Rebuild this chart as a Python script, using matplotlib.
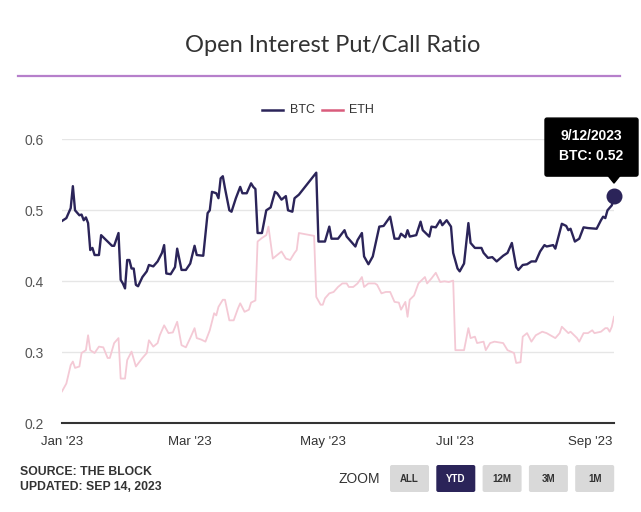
import numpy as np
import pandas as pd
import matplotlib
matplotlib.use('Agg')
import matplotlib.pyplot as plt
import matplotlib.dates as mdates
from matplotlib.patches import FancyBboxPatch, Polygon

# Data (days since 2023-01-01, put/call ratio)
start_date = pd.Timestamp('2023-01-01')

btc_day = [0, 2, 3, 4, 5, 6, 8, 9, 10, 11, 12, 13, 14, 15, 17, 18, 21, 23, 24, 26,
           27, 28, 29, 30, 31, 32, 33, 34, 35, 37, 39, 40, 42, 44, 46, 47, 48, 50, 52, 53,
           55, 57, 59, 61, 62, 65, 67, 68, 69, 71, 72, 73, 74, 75, 77, 78, 80, 82, 83, 85,
           87, 88, 89, 90, 92, 94, 96, 98, 99, 101, 103, 104, 106, 107, 109, 117, 118, 121, 123, 124,
           127, 130, 131, 135, 136, 138, 139, 141, 143, 146, 148, 151, 153, 155, 156, 158, 159, 160, 163, 165,
           166, 169, 170, 172, 174, 175, 177, 179, 180, 182, 183, 185, 187, 188, 190, 193, 194, 196, 198, 200,
           203, 205, 207, 209, 210, 212, 214, 216, 218, 220, 222, 223, 226, 227, 230, 232, 233, 234, 236, 238,
           240, 242, 246, 248, 249, 250, 251, 253, 254]
btc_val = [0.485, 0.489, 0.496, 0.503, 0.534, 0.500, 0.493, 0.494, 0.486, 0.490, 0.482, 0.444, 0.447, 0.437, 0.437, 0.465, 0.456, 0.450, 0.450, 0.468,
           0.402, 0.397, 0.390, 0.430, 0.430, 0.418, 0.418, 0.395, 0.393, 0.406, 0.414, 0.423, 0.421, 0.428, 0.440, 0.451, 0.411, 0.410, 0.420, 0.446,
           0.416, 0.416, 0.425, 0.450, 0.437, 0.436, 0.496, 0.500, 0.526, 0.524, 0.517, 0.545, 0.548, 0.531, 0.500, 0.498, 0.517, 0.533, 0.524, 0.524,
           0.538, 0.533, 0.530, 0.468, 0.468, 0.500, 0.504, 0.526, 0.524, 0.515, 0.520, 0.500, 0.498, 0.517, 0.522, 0.553, 0.456, 0.456, 0.477, 0.460,
           0.460, 0.472, 0.463, 0.449, 0.458, 0.468, 0.435, 0.424, 0.435, 0.477, 0.478, 0.491, 0.460, 0.460, 0.467, 0.462, 0.472, 0.463, 0.465, 0.484,
           0.472, 0.463, 0.477, 0.476, 0.486, 0.479, 0.486, 0.477, 0.440, 0.418, 0.414, 0.425, 0.482, 0.454, 0.447, 0.447, 0.440, 0.433, 0.434, 0.428,
           0.436, 0.440, 0.454, 0.420, 0.416, 0.423, 0.424, 0.428, 0.428, 0.442, 0.451, 0.449, 0.451, 0.446, 0.481, 0.478, 0.472, 0.474, 0.456, 0.460,
           0.476, 0.475, 0.474, 0.486, 0.491, 0.489, 0.500, 0.507, 0.520]

eth_day = [0, 2, 4, 5, 6, 8, 9, 11, 12, 13, 15, 17, 19, 21, 22, 24, 26, 27, 29, 30,
           32, 34, 35, 37, 39, 40, 42, 44, 45, 47, 49, 51, 53, 55, 57, 59, 61, 62, 64, 66,
           68, 70, 71, 72, 74, 75, 77, 79, 81, 82, 84, 86, 87, 89, 90, 92, 94, 95, 97, 99,
           101, 103, 105, 107, 108, 109, 116, 117, 119, 120, 121, 123, 125, 127, 129, 131, 132, 134, 136, 138,
           139, 141, 144, 145, 147, 149, 151, 153, 155, 156, 158, 159, 160, 162, 164, 167, 168, 170, 172, 174,
           176, 178, 180, 181, 183, 185, 187, 188, 190, 191, 194, 195, 197, 199, 201, 203, 205, 208, 209, 211,
           212, 214, 216, 218, 221, 223, 227, 229, 230, 233, 234, 237, 238, 240, 242, 244, 245, 248, 250, 251,
           252, 253, 254]
eth_val = [0.245, 0.256, 0.282, 0.287, 0.278, 0.280, 0.299, 0.303, 0.324, 0.303, 0.299, 0.308, 0.307, 0.292, 0.292, 0.313, 0.320, 0.263, 0.263, 0.289,
           0.301, 0.280, 0.284, 0.292, 0.299, 0.317, 0.308, 0.313, 0.324, 0.338, 0.327, 0.328, 0.343, 0.310, 0.307, 0.320, 0.334, 0.320, 0.318, 0.315,
           0.331, 0.355, 0.352, 0.364, 0.374, 0.374, 0.345, 0.345, 0.362, 0.369, 0.357, 0.360, 0.370, 0.373, 0.456, 0.461, 0.465, 0.477, 0.432, 0.437,
           0.442, 0.432, 0.430, 0.440, 0.444, 0.468, 0.464, 0.378, 0.367, 0.367, 0.376, 0.383, 0.385, 0.392, 0.397, 0.397, 0.392, 0.392, 0.397, 0.406,
           0.392, 0.397, 0.397, 0.395, 0.383, 0.385, 0.385, 0.371, 0.370, 0.360, 0.371, 0.350, 0.374, 0.380, 0.397, 0.406, 0.397, 0.404, 0.412, 0.399,
           0.400, 0.399, 0.401, 0.303, 0.303, 0.303, 0.334, 0.320, 0.322, 0.313, 0.315, 0.303, 0.313, 0.315, 0.314, 0.313, 0.303, 0.299, 0.285, 0.286,
           0.322, 0.327, 0.315, 0.324, 0.329, 0.327, 0.320, 0.327, 0.336, 0.327, 0.329, 0.320, 0.315, 0.327, 0.327, 0.331, 0.327, 0.329, 0.334, 0.334,
           0.329, 0.336, 0.350]

y_ticks = [0.2, 0.3, 0.4, 0.5, 0.6]
zoom_buttons = ['ALL', 'YTD', '12M', '3M', '1M']
active_button = 'YTD'

# Colours
btc_color = '#2b2459'
eth_color = '#f4c9d5'
eth_legend_color = '#d95c7c'
text_color = '#333333'

W, H = 641, 512
fig = plt.figure(figsize=(W / 100, H / 100), dpi=100)
fig.patch.set_facecolor('white')

ax_left, ax_right = 62, 614
ax_top, ax_bottom = 139.3, 423.3
ax = fig.add_axes([ax_left / W, 1 - ax_bottom / H, (ax_right - ax_left) / W, (ax_bottom - ax_top) / H])

btc_dates = start_date + pd.to_timedelta(btc_day, unit='D')
eth_dates = start_date + pd.to_timedelta(eth_day, unit='D')

ax.plot(eth_dates, eth_val, color=eth_color, lw=1.3, zorder=2, solid_joinstyle='round')
ax.plot(btc_dates, btc_val, color=btc_color, lw=1.7, zorder=3, solid_joinstyle='round')

# hovered point
ax.plot(btc_dates[-1], btc_val[-1], 'o', ms=10.5, color=btc_color, zorder=5, clip_on=False)

ax.set_xlim(btc_dates[0], btc_dates[-1])
ax.set_ylim(0.2, 0.6)
ax.set_yticks(y_ticks)
ax.set_yticklabels([f'{v:.1f}' for v in y_ticks])
ax.xaxis.set_major_locator(mdates.MonthLocator(bymonth=[1, 3, 5, 7, 9]))
ax.xaxis.set_major_formatter(mdates.DateFormatter("%b '%y"))

ax.grid(axis='y', color='#e6e6e6', lw=1.0)
ax.set_axisbelow(True)
for s in ['top', 'right', 'left']:
    ax.spines[s].set_visible(False)
ax.spines['bottom'].set_color('#333333')
ax.spines['bottom'].set_linewidth(1.5)
ax.tick_params(axis='y', length=0, pad=13, labelsize=10, labelcolor='#555555')
ax.tick_params(axis='x', length=0, pad=9, labelsize=9.5, labelcolor=text_color)
for lab in ax.get_yticklabels() + ax.get_xticklabels():
    lab.set_fontfamily('Liberation Sans')

# overlay in pixel coords for page decorations
ov = fig.add_axes([0, 0, 1, 1])
ov.set_xlim(0, W)
ov.set_ylim(H, 0)
ov.axis('off')

ov.text(333, 45, 'Open Interest Put/Call Ratio', ha='center', va='center',
        fontsize=17, color=text_color, family='Lato')
ov.plot([18, 620], [76, 76], color='#b67fcb', lw=1.6)

# legend
ov.plot([262, 283], [110, 110], color=btc_color, lw=1.8)
ov.text(290, 110, 'BTC', ha='left', va='center', fontsize=9, color=text_color, family='Liberation Sans')
ov.plot([322, 343], [110, 110], color=eth_legend_color, lw=1.8)
ov.text(349, 110, 'ETH', ha='left', va='center', fontsize=9, color=text_color, family='Liberation Sans')

# tooltip anchored to last BTC point
px, py = ax.transData.transform((mdates.date2num(btc_dates[-1]), btc_val[-1]))
py = H - py
box_w, box_h = 93, 58
bx0, by0 = px - 69, py - 78
ov.add_patch(FancyBboxPatch((bx0, by0), box_w, box_h, boxstyle='round,pad=0,rounding_size=2',
                            fc='black', ec='black', zorder=6))
ov.add_patch(Polygon([[px - 6, by0 + box_h - 0.5], [px + 6, by0 + box_h - 0.5], [px, by0 + box_h + 7]],
                     closed=True, fc='black', ec='black', zorder=6))
ov.text(bx0 + box_w / 2, by0 + 18, '9/12/2023', ha='center', va='center', color='white',
        fontsize=10, fontweight='bold', family='Liberation Sans', zorder=7)
ov.text(bx0 + box_w / 2, by0 + 38, f'BTC: {btc_val[-1]:.2f}', ha='center', va='center', color='white',
        fontsize=10, fontweight='bold', family='Liberation Sans', zorder=7)

# footer
ov.text(20, 472, 'SOURCE: THE BLOCK', ha='left', va='center', fontsize=8.8, fontweight='bold',
        color=text_color, family='Liberation Sans')
ov.text(20, 487, 'UPDATED: SEP 14, 2023', ha='left', va='center', fontsize=8.8, fontweight='bold',
        color=text_color, family='Liberation Sans')
ov.text(380, 479, 'ZOOM', ha='right', va='center', fontsize=10, color=text_color, family='Liberation Sans')

bx = 390
for name in zoom_buttons:
    active = name == active_button
    ov.add_patch(FancyBboxPatch((bx, 465), 39, 27, boxstyle='round,pad=0,rounding_size=2',
                                fc=btc_color if active else '#d9d9d9', ec='none'))
    ov.text(bx + 19.5, 479, name, ha='center', va='center', fontsize=7, fontweight='bold',
            color='white' if active else text_color, family='Liberation Sans')
    bx += 46.3

fig.savefig('out.png', dpi=100)
